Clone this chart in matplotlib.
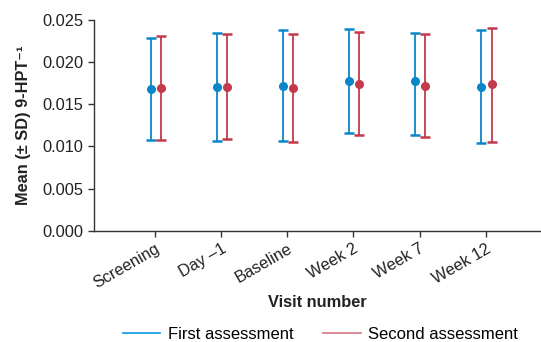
import matplotlib
matplotlib.use("Agg")
import matplotlib.pyplot as plt
import numpy as np

plt.rcParams["font.family"] = ["Liberation Sans", "DejaVu Sans"]

visits = ["Screening", "Day \u20131", "Baseline", "Week 2", "Week 7", "Week 12"]

first_mean = [0.01683, 0.01699, 0.01719, 0.01779, 0.01771, 0.01703]
first_low = [0.01077, 0.01065, 0.01065, 0.01160, 0.01137, 0.01041]
first_high = [0.02281, 0.02345, 0.02377, 0.02392, 0.02345, 0.02377]

second_mean = [0.01691, 0.01707, 0.01695, 0.01735, 0.01711, 0.01735]
second_low = [0.01077, 0.01089, 0.01053, 0.01137, 0.01113, 0.01053]
second_high = [0.02309, 0.02333, 0.02333, 0.02353, 0.02333, 0.02404]

blue = "#0a87c9"
red = "#c33a4c"
blue_light = "#1da2e2"
red_light = "#d9828e"

fig = plt.figure(figsize=(5.41, 3.42), dpi=100)
ax = fig.add_axes([0.174, 0.325, 0.824, 0.617])

x = np.arange(len(visits))
for means, lows, highs, off, col, lcol, lab in [
    (first_mean, first_low, first_high, -0.065, blue, blue_light, "First assessment"),
    (second_mean, second_low, second_high, 0.09, red, red_light, "Second assessment"),
]:
    m = np.array(means)
    err = [m - np.array(lows), np.array(highs) - m]
    ax.errorbar(x + off, m, yerr=err, fmt="o", color=col, ms=5.5,
                elinewidth=1.3, capsize=3.5, capthick=1.8)
    ax.plot([], [], color=lcol, lw=1.3, label=lab)

ax.set_xlim(-0.92, 5.82)
ax.set_ylim(0, 0.025)
ax.set_yticks(np.arange(0, 0.0251, 0.005))
ax.set_yticklabels(["%.3f" % v for v in np.arange(0, 0.0251, 0.005)], fontsize=11.8, color="#222222")
ax.set_xticks(x)
ax.set_xticklabels(visits, rotation=30, ha="right", rotation_mode="anchor", fontsize=11.8, color="#222222")
ax.tick_params(length=4, width=1, color="#333333")
ax.spines["top"].set_visible(False)
ax.spines["right"].set_visible(False)
for s in ["left", "bottom"]:
    ax.spines[s].set_color("#333333")
    ax.spines[s].set_linewidth(1)

ax.set_ylabel("Mean (\u00b1 SD) 9-HPT\u207b\u00b9", fontsize=11.8, fontweight="bold", color="#222222", labelpad=8)
ax.set_xlabel("Visit number", fontsize=11.8, fontweight="bold", color="#222222", labelpad=3)

handles, labels = ax.get_legend_handles_labels()
fig.legend(handles, labels, loc="center", bbox_to_anchor=(0.592, 0.022), ncol=2, frameon=False,
           fontsize=12, handlelength=2.25, columnspacing=1.8, handletextpad=0.45)

plt.savefig("out.png", dpi=100)
